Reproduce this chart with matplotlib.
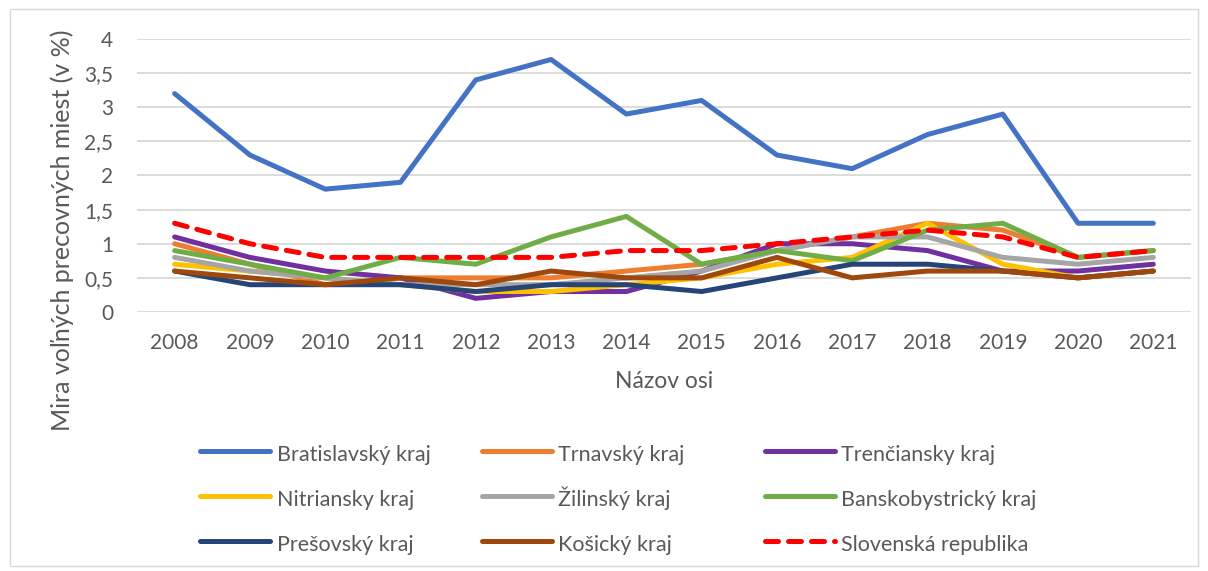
# regional_vacancy_plot.py

import matplotlib.pyplot as plt
from matplotlib.patches import Rectangle
import numpy as np

## data ##########################################
years = [ "2008", "2009", "2010", "2011", "2012", "2013", "2014",
          "2015", "2016", "2017", "2018", "2019", "2020", "2021" ]

bratislavsky     = [ 3.2, 2.3, 1.8, 1.9, 3.4, 3.7, 2.9, 3.1, 2.3, 2.1, 2.6, 2.9, 1.3, 1.3 ]
trnavsky         = [ 1.0, 0.7, 0.4, 0.5, 0.5, 0.5, 0.6, 0.7, 0.9, 1.1, 1.3, 1.2, 0.8, 0.9 ]
trenciansky      = [ 1.1, 0.8, 0.6, 0.5, 0.2, 0.3, 0.3, 0.6, 1.0, 1.0, 0.9, 0.6, 0.6, 0.7 ]
nitriansky       = [ 0.7, 0.6, 0.5, 0.4, 0.3, 0.3, 0.4, 0.5, 0.7, 0.8, 1.3, 0.7, 0.5, 0.6 ]
zilinsky         = [ 0.8, 0.6, 0.5, 0.4, 0.4, 0.4, 0.5, 0.6, 0.9, 1.1, 1.1, 0.8, 0.7, 0.8 ]
banskobystricky  = [ 0.9, 0.7, 0.5, 0.8, 0.7, 1.1, 1.4, 0.7, 0.9, 0.75, 1.2, 1.3, 0.8, 0.9 ]
presovsky        = [ 0.6, 0.4, 0.4, 0.4, 0.3, 0.4, 0.4, 0.3, 0.5, 0.7, 0.7, 0.6, 0.5, 0.6 ]
kosicky          = [ 0.6, 0.5, 0.4, 0.5, 0.4, 0.6, 0.5, 0.5, 0.8, 0.5, 0.6, 0.6, 0.5, 0.6 ]
slovensko        = [ 1.3, 1.0, 0.8, 0.8, 0.8, 0.8, 0.9, 0.9, 1.0, 1.1, 1.2, 1.1, 0.8, 0.9 ]

y_ticks = [ 0, 0.5, 1, 1.5, 2, 2.5, 3, 3.5, 4 ]
y_tick_labels = [ "0", "0,5", "1", "1,5", "2", "2,5", "3", "3,5", "4" ]
#################################################

plt.rcParams[ "font.family" ] = [ "Lato", "DejaVu Sans" ]
text_grey = "#595959"

figure = plt.figure( figsize=( 12.08, 5.71 ), dpi=100 )
ax = figure.add_axes( [ 0.1134, 0.4536, 0.8725, 0.4781 ] )

x = np.arange( len( years ) )

series = [
    ( bratislavsky,    "Bratislavský kraj",     "#4472C4" ),
    ( trnavsky,        "Trnavský kraj",         "#ED7D31" ),
    ( trenciansky,     "Trenčiansky kraj",      "#7030A0" ),
    ( nitriansky,      "Nitriansky kraj",       "#FFC000" ),
    ( zilinsky,        "Žilinský kraj",         "#A5A5A5" ),
    ( banskobystricky, "Banskobystrický kraj",  "#70AD47" ),
    ( presovsky,       "Prešovský kraj",        "#264478" ),
    ( kosicky,         "Košický kraj",          "#9E480E" ),
]

handles = []
for values, name, colour in series:
  line, = ax.plot( x, values, color=colour, linewidth=3.6, label=name,
                   solid_capstyle="round", solid_joinstyle="round" )
  handles.append( line )

# national average on top, dashed
sr_line, = ax.plot( x, slovensko, color="#FF0000", linewidth=3.6, linestyle=( 0, ( 2.6, 2.0 ) ),
                    dash_capstyle="round", label="Slovenská republika" )
handles.append( sr_line )

ax.set_xlim( -0.5, len( years ) - 0.5 )
ax.set_ylim( 0, 4 )
ax.set_xticks( x )
ax.set_xticklabels( years )
ax.set_yticks( y_ticks )
ax.set_yticklabels( y_tick_labels )
ax.tick_params( axis="both", length=0, labelsize=15, labelcolor=text_grey )
ax.tick_params( axis="x", pad=15 )
ax.tick_params( axis="y", pad=17 )
for label in ax.get_yticklabels():
  label.set_horizontalalignment( "right" )

ax.grid( axis="y", color="#D9D9D9", linewidth=1.3 )
ax.set_axisbelow( True )
for side in [ "top", "right", "left", "bottom" ]:
  ax.spines[ side ].set_visible( False )

ax.set_xlabel( "Názov osi", fontsize=16.5, color=text_grey, labelpad=13 )
ax.set_ylabel( "Mira voľných precovných miest (v %)", fontsize=18, color=text_grey )
ax.yaxis.set_label_coords( -0.060, 0.30 )

# legend in three columns, row-wise like the original
col_x = [ 0.157, 0.390, 0.624 ]
for col in range( 3 ):
  figure.legend( handles[ col::3 ], [ h.get_label() for h in handles[ col::3 ] ],
                 loc="upper left", bbox_to_anchor=( col_x[ col ], 0.246 ),
                 frameon=False, fontsize=15.5, labelcolor=text_grey,
                 handlelength=3.25, handleheight=1.45, handletextpad=0.3,
                 labelspacing=0.9, borderpad=0 )

# light chart-area border
figure.patches.append( Rectangle( ( 0.0083, 0.009 ), 0.9834, 0.975, transform=figure.transFigure,
                                  fill=False, edgecolor="#D9D9D9", linewidth=1.0 ) )

figure.savefig( "out.png", dpi=100 )
